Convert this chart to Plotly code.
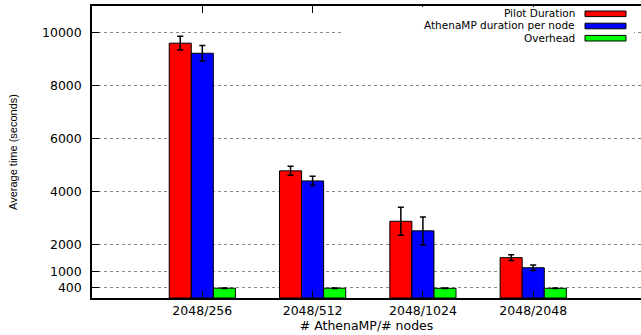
import plotly.graph_objects as go

categories = ["2048/256", "2048/512", "2048/1024", "2048/2048"]
pilot = [9600, 4790, 2890, 1520]
pilot_err = [260, 170, 530, 105]
athena = [9220, 4410, 2530, 1140]
athena_err = [290, 175, 520, 105]
overhead = [370, 370, 365, 365]
overhead_err = [10, 10, 10, 10]
series_names = ["Pilot Duration", "AthenaMP duration per node", "Overhead"]
colors = ["#ff0000", "#0000ff", "#00ff00"]
ytickvals = [400, 1000, 2000, 4000, 6000, 8000, 10000]

W, H = 641, 335
L, R, T, B = 92, 0, 6, 37
pw, ph = W - L - R, H - T - B

fig = go.Figure()
for name, vals, errs, col in zip(series_names, [pilot, athena, overhead],
                                 [pilot_err, athena_err, overhead_err], colors):
    fig.add_trace(go.Bar(
        x=categories, y=vals, name=name, showlegend=False,
        marker=dict(color=col, line=dict(color="black", width=1)),
        error_y=dict(type="data", array=errs, visible=True,
                     color="black", thickness=1.5, width=3),
    ))

font_main = dict(family="DejaVu Sans", size=12.5, color="black")

def px_x(px):
    return (px - L) / pw

def px_y(py):
    return (H - B - py) / ph

shapes = []
annotations = []
# legend background (opaque, no border)
shapes.append(dict(type="rect", xref="paper", yref="paper", layer="above",
                   x0=px_x(343), x1=px_x(634), y0=px_y(46), y1=px_y(7),
                   fillcolor="white", line=dict(width=0)))
rows = [13.8, 26.0, 38.2]
for name, col, cy in zip(series_names, colors, rows):
    shapes.append(dict(type="rect", xref="paper", yref="paper", layer="above",
                       x0=px_x(585), x1=px_x(626), y0=px_y(cy + 2.8), y1=px_y(cy - 2.8),
                       fillcolor=col, line=dict(color="black", width=1)))
    annotations.append(dict(xref="paper", yref="paper", x=px_x(576), y=px_y(cy - 0.5),
                            text=name, showarrow=False, xanchor="right", yanchor="middle",
                            borderpad=0,
                            font=dict(family="DejaVu Sans", size=10.5, color="black")))

fig.update_layout(
    width=W, height=H,
    margin=dict(l=L, r=R, t=T, b=B, pad=0),
    paper_bgcolor="white", plot_bgcolor="white",
    barmode="group", bargap=0.4, bargroupgap=0,
    shapes=shapes, annotations=annotations,
    font=font_main,
)
fig.update_xaxes(
    range=[-1, 3.977], showline=True, linecolor="black", linewidth=1.5, mirror="ticks",
    ticks="inside", ticklen=7, tickcolor="black", tickwidth=1,
    showgrid=False, zeroline=False, tickfont=font_main,
    title=dict(text="# AthenaMP/# nodes", font=font_main, standoff=4),
)
fig.update_yaxes(
    range=[0, 11000], tickvals=ytickvals, ticktext=[str(v) for v in ytickvals],
    showline=True, linecolor="black", linewidth=1.5, mirror=False,
    ticks="inside", ticklen=7, tickcolor="black", tickwidth=1,
    showgrid=True, gridcolor="#888888", griddash="dot", gridwidth=1,
    zeroline=False, tickfont=font_main, ticklabelstandoff=6,
    title=dict(text="Average time (seconds)",
               font=dict(family="Liberation Sans", size=11, color="black"), standoff=22),
)

fig.write_html("out.html")
